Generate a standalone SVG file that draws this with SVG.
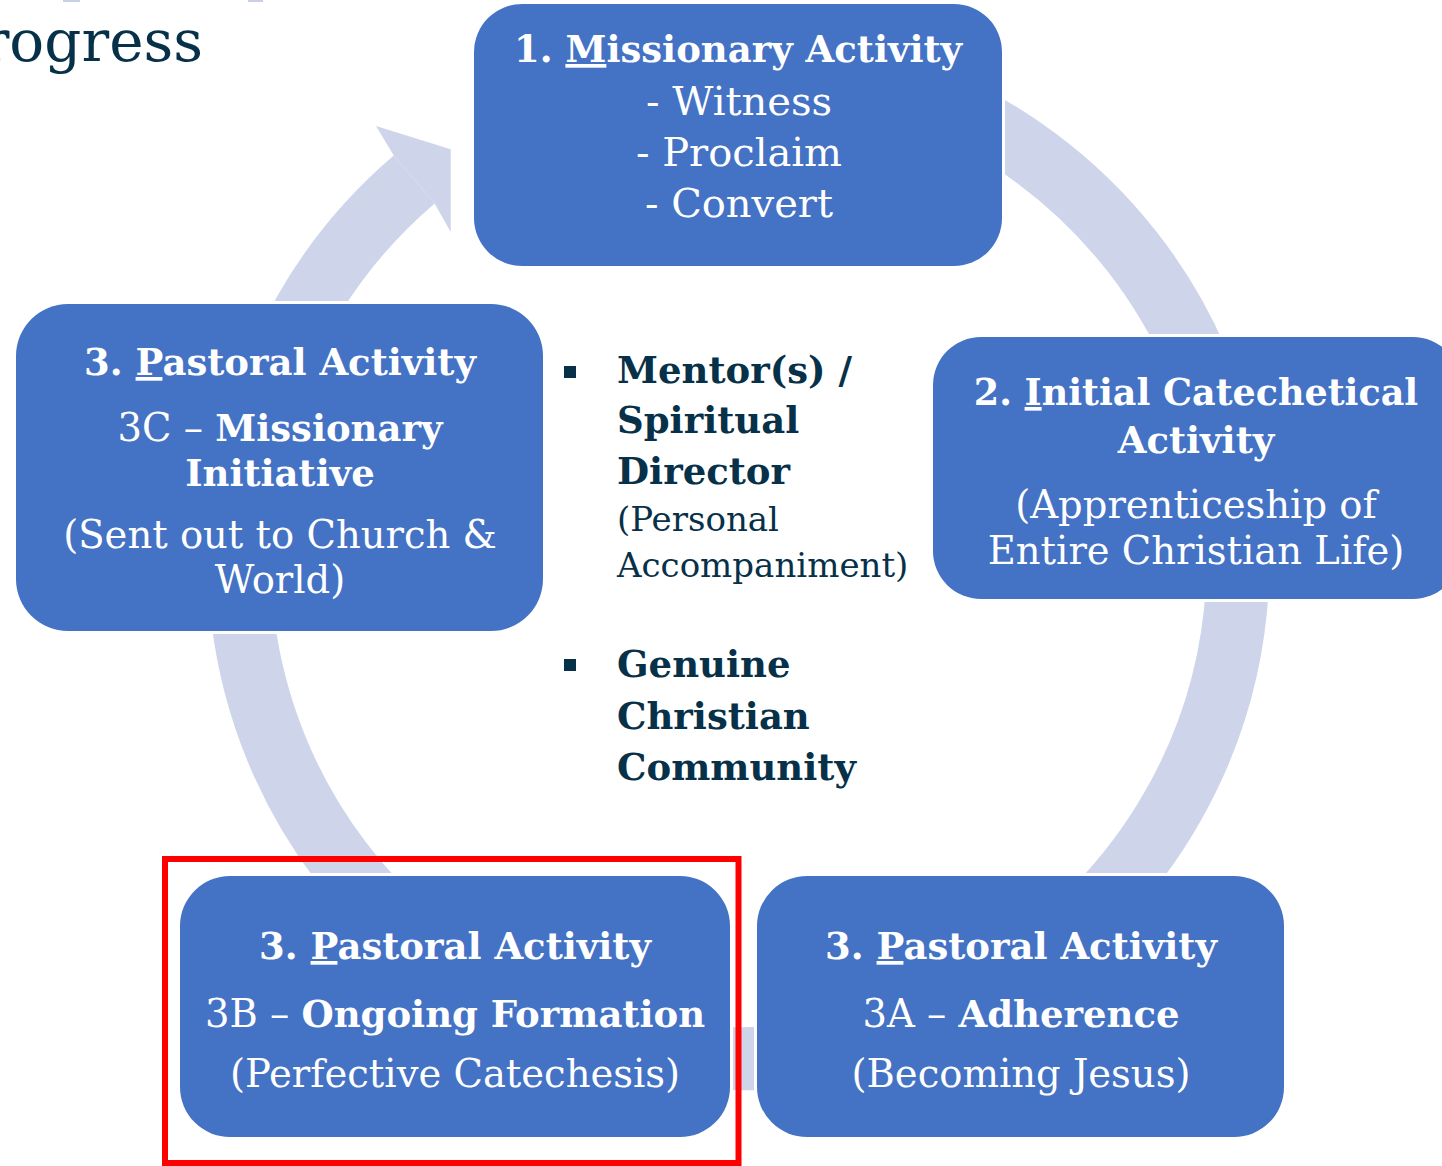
<svg xmlns="http://www.w3.org/2000/svg" width="1442" height="1166" viewBox="0 0 1442 1166">
<style>
  .ring{fill:none;stroke:#CED4EA;stroke-width:63}
  .arrow{fill:#CED4EA}
  .box{fill:#4472C4;stroke:#FFFFFF;stroke-width:6;paint-order:stroke}
  .t{font-family:"DejaVu Serif","Liberation Serif",serif;font-size:38.5px;fill:#FFFFFF;text-anchor:middle}
  .b{font-weight:bold;font-size:37px}
  .l{font-size:40px}
  .u{text-decoration:underline}
  .d{font-family:"DejaVu Serif","Liberation Serif",serif;font-size:34px;fill:#073049}
  .db{font-weight:bold;font-size:37px}
  .hl{fill:none;stroke:#FF0000;stroke-width:6}
</style>
<rect width="1442" height="1166" fill="#FFFFFF"/>

<text class="d" x="203" y="61" text-anchor="end" style="font-size:58px">rogress</text>
<rect x="63" y="0" width="17" height="2" fill="#C9D0E4"/>
<rect x="248" y="0" width="15" height="2" fill="#C9D0E4"/>

<g id="connectors">
  <path class="ring" d="M 567.76 89.92 A 499.5 499.5 0 1 1 414.2 179.48"/>
  <path class="arrow" d="M 393.75 155.5 L 376 126 L 450.7 149.3 L 450.7 232 L 434.66 203.4 Z"/>
</g>

<g id="node-1">
  <rect class="box" x="474" y="4" width="528" height="262" rx="48"/>
  <text class="t b" x="738" y="62">1. <tspan class="u">M</tspan>issionary Activity</text>
  <text class="t l" x="739" y="115">- Witness</text>
  <text class="t l" x="739" y="166">- Proclaim</text>
  <text class="t l" x="739" y="217">- Convert</text>
</g>

<g id="node-2">
  <rect class="box" x="933" y="337" width="528" height="262" rx="48"/>
  <text class="t b" x="1196" y="405" style="font-size:36.5px">2. <tspan class="u">I</tspan>nitial Catechetical</text>
  <text class="t b" x="1196" y="453">Activity</text>
  <text class="t" x="1196" y="518">(Apprenticeship of</text>
  <text class="t" x="1196" y="564">Entire Christian Life)</text>
</g>

<g id="node-3a">
  <rect class="box" x="757" y="876" width="527" height="261" rx="50"/>
  <text class="t b" x="1021" y="959">3. <tspan class="u">P</tspan>astoral Activity</text>
  <text class="t" x="1021" y="1027">3A – <tspan class="b">Adherence</tspan></text>
  <text class="t" x="1021" y="1087">(Becoming Jesus)</text>
</g>

<g id="node-3b">
  <rect class="box" x="180" y="876" width="550" height="261" rx="50"/>
  <text class="t b" x="455" y="959">3. <tspan class="u">P</tspan>astoral Activity</text>
  <text class="t" x="455" y="1027">3B – <tspan class="b">Ongoing Formation</tspan></text>
  <text class="t" x="455" y="1087">(Perfective Catechesis)</text>
</g>

<g id="node-3c">
  <rect class="box" x="16" y="304" width="527" height="327" rx="52"/>
  <text class="t b" x="280" y="375">3. <tspan class="u">P</tspan>astoral Activity</text>
  <text class="t" x="280" y="441">3C – <tspan class="b">Missionary</tspan></text>
  <text class="t b" x="280" y="486">Initiative</text>
  <text class="t" x="280" y="548">(Sent out to Church &amp;</text>
  <text class="t" x="280" y="593">World)</text>
</g>

<g id="notes">
  <rect x="564" y="366" width="12" height="12" fill="#073049"/>
  <text class="d db" x="617" y="383">Mentor(s) /</text>
  <text class="d db" x="617" y="433">Spiritual</text>
  <text class="d db" x="617" y="484">Director</text>
  <text class="d" x="617" y="531">(Personal</text>
  <text class="d" x="617" y="577">Accompaniment)</text>
  <rect x="564" y="659" width="12" height="12" fill="#073049"/>
  <text class="d db" x="617" y="677">Genuine</text>
  <text class="d db" x="617" y="729">Christian</text>
  <text class="d db" x="617" y="780">Community</text>
</g>

<rect class="hl" x="165" y="859" width="573.5" height="304"/>
</svg>
